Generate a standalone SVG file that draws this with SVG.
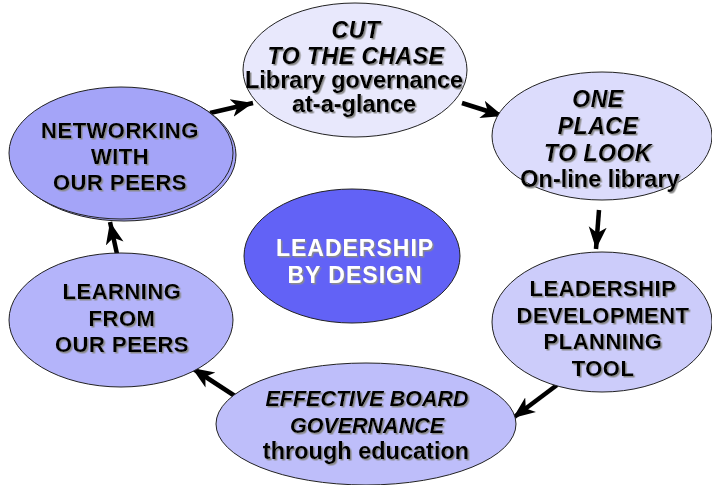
<svg xmlns="http://www.w3.org/2000/svg" width="712" height="485" viewBox="0 0 712 485">
<defs>
<filter id="sh" x="-10%" y="-10%" width="120%" height="130%">
<feDropShadow dx="1.5" dy="1.5" stdDeviation="0" flood-color="#8a8a8a" flood-opacity="1"/>
</filter>
<marker id="ah" markerUnits="userSpaceOnUse" markerWidth="24" markerHeight="20" viewBox="0 0 24 20" refX="22" refY="10" orient="auto">
<path d="M0,1 L22,10 L0,19 L6,10 z" fill="#000"/>
</marker>
<style>
.n{stroke:#222;stroke-width:1}
.t{font-family:"Liberation Sans",Arial,sans-serif;font-weight:bold;text-anchor:middle;fill:#000;filter:url(#sh)}
.cap{font-size:22px;letter-spacing:0.5px}
.it{font-style:italic;font-size:23px;letter-spacing:0.5px}
.lc{font-size:23.5px}
.w{fill:#fff;font-size:23px;letter-spacing:1px}
.c{stroke:#000;stroke-width:4.5;fill:none;marker-end:url(#ah)}
</style>
</defs>
<rect width="712" height="485" fill="#fff"/>
<g id="connectors">
<line class="c" x1="210" y1="113" x2="253" y2="103"/>
<line class="c" x1="462" y1="103" x2="503" y2="116"/>
<line class="c" x1="599" y1="210" x2="596" y2="249"/>
<line class="c" x1="557" y1="385" x2="513" y2="418"/>
<line class="c" x1="238" y1="398" x2="192" y2="368"/>
<line class="c" x1="117" y1="254" x2="110" y2="222"/>
</g>
<g id="networking">
<ellipse class="n" cx="124" cy="155" rx="112" ry="66" fill="#a4a4f8"/>
<ellipse class="n" cx="121" cy="153" rx="112" ry="66" fill="#a4a4f8"/>
<text class="t cap" x="120" y="138">NETWORKING</text>
<text class="t cap" x="120" y="164">WITH</text>
<text class="t cap" x="120" y="190">OUR PEERS</text>
</g>
<g id="cut">
<ellipse class="n" cx="355" cy="70" rx="112" ry="67" fill="#e8e8fc"/>
<text class="t it" x="356" y="38">CUT</text>
<text class="t it" x="356" y="64">TO THE CHASE</text>
<text class="t lc" x="354" y="88">Library governance</text>
<text class="t lc" x="354" y="112">at-a-glance</text>
</g>
<g id="oneplace">
<ellipse class="n" cx="602" cy="136" rx="110" ry="64" fill="#dcdcfc"/>
<text class="t it" x="598" y="107">ONE</text>
<text class="t it" x="598" y="134">PLACE</text>
<text class="t it" x="598" y="161">TO LOOK</text>
<text class="t lc" x="600" y="187">On-line library</text>
</g>
<g id="center">
<ellipse class="n" cx="352" cy="256" rx="108" ry="67" fill="#6262f6"/>
<text class="t w" x="355" y="256">LEADERSHIP</text>
<text class="t w" x="355" y="283">BY DESIGN</text>
</g>
<g id="leaderdev">
<ellipse class="n" cx="602" cy="322" rx="110" ry="70" fill="#ccccfa"/>
<text class="t cap" x="603" y="296">LEADERSHIP</text>
<text class="t cap" x="603" y="323">DEVELOPMENT</text>
<text class="t cap" x="603" y="349">PLANNING</text>
<text class="t cap" x="603" y="376">TOOL</text>
</g>
<g id="effective">
<ellipse class="n" cx="366" cy="424" rx="150" ry="61" fill="#bebefa"/>
<text class="t it" x="367" y="406" style="letter-spacing:0;font-size:21.5px">EFFECTIVE BOARD</text>
<text class="t it" x="367" y="433" style="letter-spacing:0;font-size:21.5px">GOVERNANCE</text>
<text class="t lc" x="366" y="459">through education</text>
</g>
<g id="learning">
<ellipse class="n" cx="121" cy="320" rx="112" ry="67" fill="#b4b4fa"/>
<text class="t cap" x="122" y="299">LEARNING</text>
<text class="t cap" x="122" y="326">FROM</text>
<text class="t cap" x="122" y="352">OUR PEERS</text>
</g>
</svg>
